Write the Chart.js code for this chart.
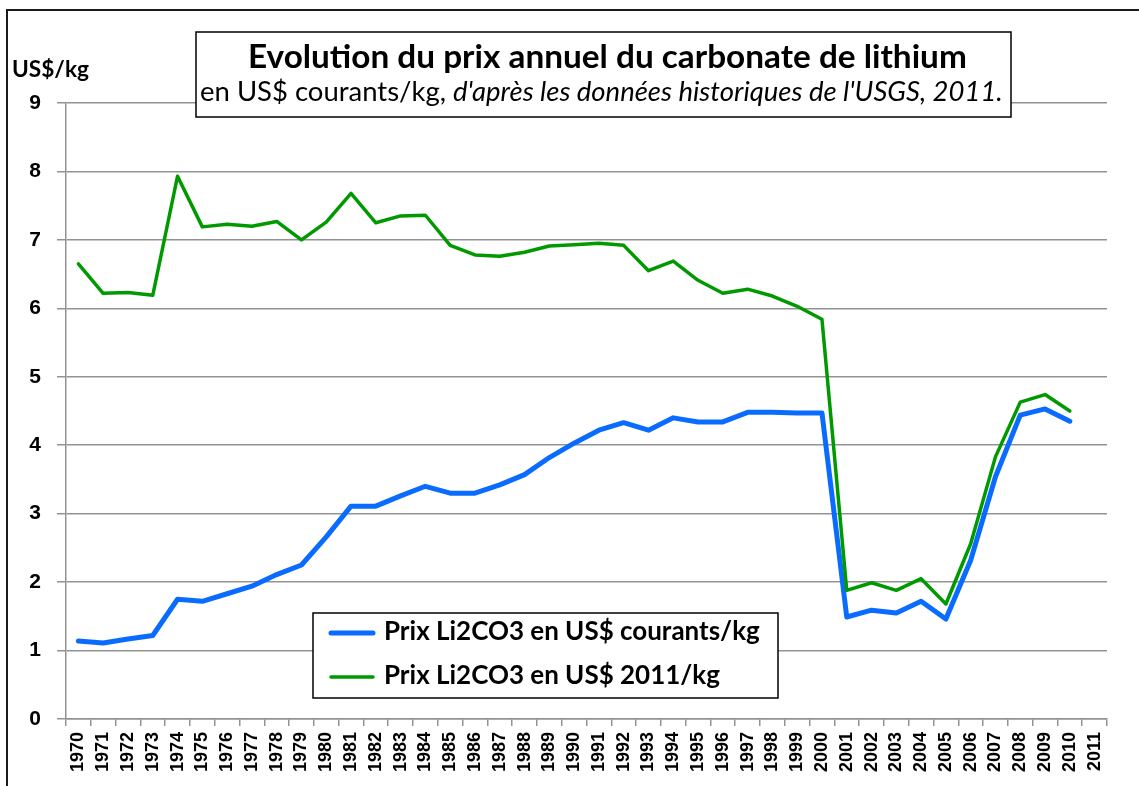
<!DOCTYPE html>
<html>
<head>
<meta charset="utf-8">
<script src="https://cdn.jsdelivr.net/npm/chart.js@4"></script>
<style>
html,body{margin:0;padding:0;background:#fff;}
canvas{display:block;}
</style>
</head>
<body>
<canvas id="c" width="1139" height="786"></canvas>
<script>
const years = ["1970","1971","1972","1973","1974","1975","1976","1977","1978","1979","1980",
"1981","1982","1983","1984","1985","1986","1987","1988","1989","1990",
"1991","1992","1993","1994","1995","1996","1997","1998","1999","2000",
"2001","2002","2003","2004","2005","2006","2007","2008","2009","2010","2011"];
const prixCourants = [1.14,1.11,1.17,1.22,1.75,1.72,1.83,1.94,2.11,2.25,2.66,
3.11,3.11,3.26,3.40,3.30,3.30,3.42,3.57,3.82,4.03,
4.22,4.33,4.22,4.40,4.34,4.34,4.48,4.48,4.47,4.47,
1.49,1.59,1.55,1.72,1.46,2.32,3.54,4.44,4.53,4.35,null];
const prix2011 = [6.65,6.22,6.23,6.19,7.93,7.19,7.23,7.20,7.27,7.00,7.26,
7.68,7.25,7.35,7.36,6.92,6.78,6.76,6.82,6.91,6.93,
6.95,6.92,6.55,6.69,6.41,6.22,6.28,6.18,6.03,5.84,
1.88,1.99,1.88,2.05,1.68,2.56,3.83,4.63,4.74,4.50,null];
const seriesLabels = ["Prix Li2CO3 en US$ courants/kg","Prix Li2CO3 en US$ 2011/kg"];
const yTicks = [0,1,2,3,4,5,6,7,8,9];
const titleText = "Evolution du prix annuel du carbonate de lithium";
const subNormal = "en US$ courants/kg, ";
const subItalic = "d'après les données historiques de l'USGS, 2011.";
const yUnit = "US$/kg";

const BLUE = "#0a6cff";
const GREEN = "#009a00";
const GRID = "#939393";
const FAM = "Lato, 'Open Sans', sans-serif";

function fitSize(ctx, parts, target) {
  let w = 0;
  parts.forEach(p => { ctx.font = p[0] + " 100px " + FAM; w += ctx.measureText(p[1]).width; });
  return 100 * target / w;
}

const overlay = {
  id: 'overlay',
  afterDraw(chart) {
    const ctx = chart.ctx;
    ctx.save();
    // outer border
    ctx.strokeStyle = "#1a1a1a";
    ctx.lineWidth = 2;
    ctx.beginPath();
    ctx.moveTo(7, 800); ctx.lineTo(7, 10); ctx.lineTo(1160, 10);
    ctx.stroke();

    // unit label
    ctx.fillStyle = "#000";
    ctx.textBaseline = "alphabetic";
    ctx.textAlign = "left";
    let s = fitSize(ctx, [["bold", yUnit]], 77);
    ctx.font = "bold " + s + "px " + FAM;
    ctx.fillText(yUnit, 12, 77);

    // title box
    ctx.fillStyle = "#fff";
    ctx.fillRect(196, 32, 815, 85);
    ctx.strokeStyle = "#000";
    ctx.lineWidth = 1.5;
    ctx.strokeRect(196, 32, 815, 85);
    ctx.fillStyle = "#000";
    s = fitSize(ctx, [["bold", titleText]], 719);
    ctx.font = "bold " + s + "px " + FAM;
    ctx.fillText(titleText, 248, 68);
    s = fitSize(ctx, [["normal", subNormal], ["italic", subItalic]], 803);
    ctx.font = "normal " + s + "px " + FAM;
    ctx.fillText(subNormal, 200, 101);
    const w1 = ctx.measureText(subNormal).width;
    ctx.font = "italic " + s + "px " + FAM;
    ctx.fillText(subItalic, 200 + w1, 101);

    // legend box
    ctx.fillStyle = "#fff";
    ctx.fillRect(313, 613, 465, 85);
    ctx.strokeStyle = "#000";
    ctx.lineWidth = 1.5;
    ctx.strokeRect(313, 613, 465, 85);
    s = fitSize(ctx, [["bold", seriesLabels[0]]], 376);
    const ds = chart.data.datasets;
    const rows = [633, 677];
    ds.forEach((d, i) => {
      ctx.strokeStyle = d.borderColor;
      ctx.lineWidth = d.borderWidth;
      ctx.lineCap = "round";
      ctx.beginPath();
      ctx.moveTo(331, rows[i]); ctx.lineTo(373, rows[i]);
      ctx.stroke();
      ctx.fillStyle = "#000";
      ctx.font = "bold " + s + "px " + FAM;
      ctx.fillText(d.label, 384, rows[i] + 7);
    });
    ctx.restore();
  }
};

new Chart(document.getElementById('c'), {
  type: 'line',
  data: {
    labels: years,
    datasets: [
      { label: seriesLabels[0], data: prixCourants, borderColor: BLUE, backgroundColor: BLUE,
        borderWidth: 5, pointRadius: 0, tension: 0, order: 1,
        borderJoinStyle: 'round', borderCapStyle: 'round', spanGaps: false },
      { label: seriesLabels[1], data: prix2011, borderColor: GREEN, backgroundColor: GREEN,
        borderWidth: 3.5, pointRadius: 0, tension: 0, order: 0,
        borderJoinStyle: 'round', borderCapStyle: 'round', spanGaps: false }
    ]
  },
  options: {
    responsive: false,
    animation: false,
    devicePixelRatio: 1,
    layout: { padding: { left: 0, top: 103, right: 32, bottom: 0 } },
    plugins: { legend: { display: false }, title: { display: false }, tooltip: { enabled: false } },
    scales: {
      x: {
        type: 'category',
        offset: true,
        afterFit(scale) { scale.height = 67; },
        grid: { display: true, drawOnChartArea: false, drawTicks: true, tickLength: 7,
                color: GRID, lineWidth: 1.5, offset: true },
        border: { display: true, color: GRID, width: 1.5 },
        ticks: { autoSkip: false, minRotation: 90, maxRotation: 90, padding: 6, color: "#000",
                 font: { family: "'Liberation Sans', Arial, sans-serif", weight: 'bold', size: 18 } }
      },
      y: {
        min: 0, max: 9,
        afterFit(scale) { scale.width = 66; },
        afterBuildTicks(scale) { scale.ticks = yTicks.map(v => ({ value: v })); },
        grid: { color: GRID, lineWidth: 1.5, tickLength: 9 },
        border: { display: true, color: GRID, width: 1.5 },
        ticks: { padding: 16, color: "#000",
                 font: { family: "'Liberation Sans', Arial, sans-serif", weight: 'bold', size: 21 } }
      }
    }
  },
  plugins: [overlay]
});
</script>
</body>
</html>
